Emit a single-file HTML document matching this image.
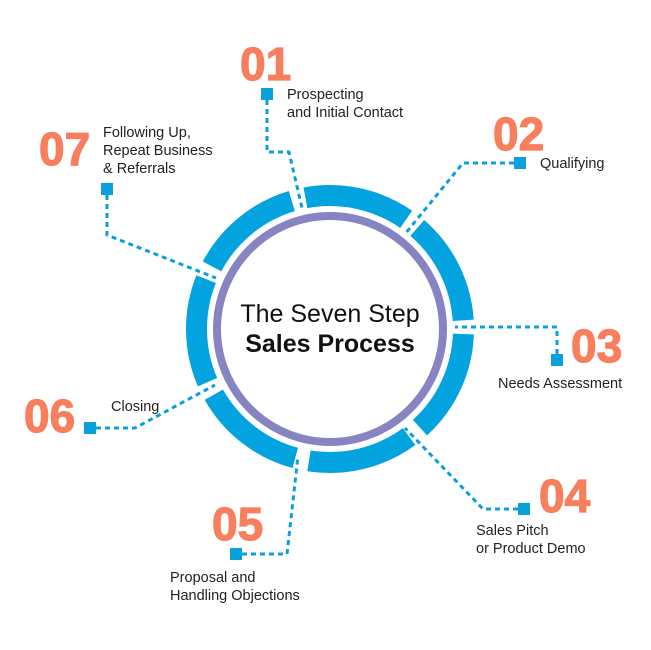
<!DOCTYPE html>
<html><head><meta charset="utf-8"><style>
html,body{margin:0;padding:0;background:#fff;}
svg{display:block;}
.n{font-family:"Liberation Sans",sans-serif;font-weight:bold;font-size:46px;fill:#f77f5e;stroke:#f77f5e;stroke-width:1.2;}
.t{font-family:"Liberation Sans",sans-serif;font-size:14.5px;fill:#222;}
.d{fill:none;stroke:#0aa0dc;stroke-width:3;stroke-dasharray:5 4;}
.s{fill:#0aa0dc;}
</style></head><body>
<svg width="651" height="650" viewBox="0 0 651 650">
<circle cx="330" cy="329" r="133.5" fill="none" stroke="#02a3de" stroke-width="21" stroke-dasharray="105.8 14" stroke-dashoffset="112.8" transform="rotate(-0.8 330 329)"/>
<circle cx="330" cy="329" r="113" fill="none" stroke="#8884c2" stroke-width="8"/>
<text x="330" y="322" text-anchor="middle" font-family="Liberation Sans,sans-serif" font-size="25" fill="#111">The Seven Step</text>
<text x="330" y="352" text-anchor="middle" font-family="Liberation Sans,sans-serif" font-size="25" font-weight="bold" fill="#111">Sales Process</text>

<path class="d" d="M267 100 L267 152 L289 152 L302 208"/>
<path class="d" d="M514 163 L463 163 L405 234"/>
<path class="d" d="M557 354 L557 327 L455 327"/>
<path class="d" d="M518 509 L483 509 L405 428"/>
<path class="d" d="M242 554 L287 554 L298 456"/>
<path class="d" d="M96 428 L135 428 L215 385"/>
<path class="d" d="M107 195 L107 235 L216 278"/>

<rect class="s" x="261" y="88" width="12" height="12"/>
<rect class="s" x="514" y="157" width="12" height="12"/>
<rect class="s" x="551" y="354" width="12" height="12"/>
<rect class="s" x="518" y="503" width="12" height="12"/>
<rect class="s" x="230" y="548" width="12" height="12"/>
<rect class="s" x="84" y="422" width="12" height="12"/>
<rect class="s" x="101" y="183" width="12" height="12"/>

<text class="n" x="240" y="80">01</text>
<text class="n" x="493" y="150">02</text>
<text class="n" x="571" y="362">03</text>
<text class="n" x="539" y="512">04</text>
<text class="n" x="212" y="540">05</text>
<text class="n" x="24" y="432">06</text>
<text class="n" x="39" y="165">07</text>

<text class="t" x="287" y="99">Prospecting</text>
<text class="t" x="287" y="117">and Initial Contact</text>
<text class="t" x="540" y="168">Qualifying</text>
<text class="t" x="498" y="388">Needs Assessment</text>
<text class="t" x="476" y="535">Sales Pitch</text>
<text class="t" x="476" y="553">or Product Demo</text>
<text class="t" x="170" y="582">Proposal and</text>
<text class="t" x="170" y="600">Handling Objections</text>
<text class="t" x="111" y="411">Closing</text>
<text class="t" x="103" y="137">Following Up,</text>
<text class="t" x="103" y="155">Repeat Business</text>
<text class="t" x="103" y="173">&amp; Referrals</text>
</svg>
</body></html>
